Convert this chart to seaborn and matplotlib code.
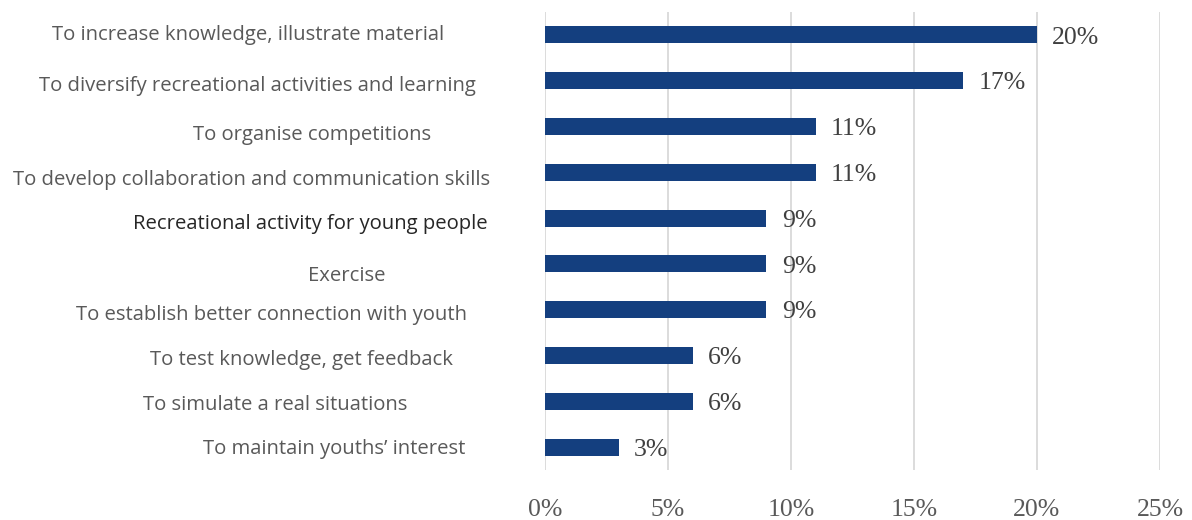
import matplotlib
matplotlib.use("Agg")
import matplotlib.pyplot as plt
import seaborn as sns
import pandas as pd

categories = [
    "To increase knowledge, illustrate material",
    "To diversify recreational activities and learning",
    "To organise competitions",
    "To develop collaboration and communication skills",
    "Recreational activity for young people",
    "Exercise",
    "To establish better connection with youth",
    "To test knowledge, get feedback",
    "To simulate a real situations",
    "To maintain youths\u2019 interest",
]
values = [20, 17, 11, 11, 9, 9, 9, 6, 6, 3]
x_ticks = [0, 5, 10, 15, 20, 25]
x_tick_labels = ["0%", "5%", "10%", "15%", "20%", "25%"]

# Category label placement (centre x, centre y) in figure pixels
label_centres = [
    (248, 35), (257, 86), (312, 135), (252, 180), (310, 224),
    (347, 276), (271, 315), (301, 360), (275, 405), (334, 449),
]
label_colors = ["#595959"] * 10
label_colors[4] = "#262626"

W, H = 1192, 520
df = pd.DataFrame({"category": categories, "value": values})

sns.set_theme(style="white")
fig = plt.figure(figsize=(W / 100, H / 100), dpi=100)
ax = fig.add_axes([545 / W, 1 - 470 / H, (1160 - 545) / W, (470 - 12) / H])

sns.barplot(data=df, x="value", y="category", orient="h", color="#143f7f",
            width=0.37, saturation=1, linewidth=0, ax=ax, zorder=3)

ax.set_xlim(0, 25)
ax.set_ylim(9.5, -0.5)
ax.set_xticks(x_ticks)
ax.set_xticklabels(x_tick_labels, fontfamily="Liberation Serif", fontsize=18.5,
                   color="#595959")
ax.tick_params(axis="x", length=0, pad=21)
ax.set_yticks([])
ax.set_xlabel("")
ax.set_ylabel("")
ax.grid(axis="x", color="#d9d9d9", linewidth=1.3, zorder=0)
for s in ax.spines.values():
    s.set_visible(False)

for i, v in enumerate(values):
    ax.annotate(f"{v}%", (v, i), xytext=(11, -2), textcoords="offset points",
                ha="left", va="center", fontfamily="Liberation Serif",
                fontsize=18.5, color="#404040")

for text, (cx, cy), col in zip(categories, label_centres, label_colors):
    fig.text(cx / W, 1 - cy / H, text, ha="center", va="center",
             fontfamily="Open Sans", fontsize=14.6, color=col)

fig.savefig("out.png", dpi=100, facecolor="white")
